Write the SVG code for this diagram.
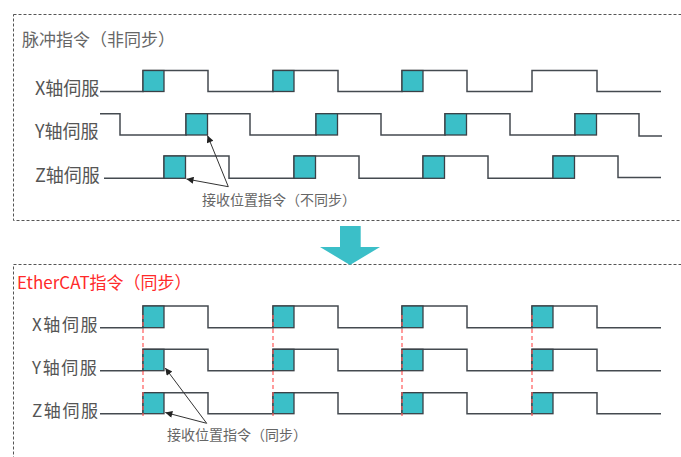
<svg xmlns="http://www.w3.org/2000/svg" width="681" height="457" viewBox="0 0 681 457">
<defs>
<style>
.frame{fill:none;stroke:#555;stroke-width:1;stroke-dasharray:3 2}
.wave{fill:none;stroke:#444a50;stroke-width:1.5}
.tl{fill:#3bbfc8;stroke:#3a4046;stroke-width:1.3}
.lbl{font-family:"Noto Sans CJK SC","Noto Sans",sans-serif;font-size:18px;fill:#555}
.lbl2{font-family:"Noto Sans CJK SC","Noto Sans",sans-serif;font-size:17px;fill:#555;letter-spacing:1.6px}
.ttl{font-family:"Noto Sans CJK SC","Noto Sans",sans-serif;font-size:17px;fill:#666}
.note{font-family:"Noto Sans CJK SC","Noto Sans",sans-serif;font-size:14px;fill:#666}
.sync{fill:none;stroke:#ff5a5a;stroke-width:1.2;stroke-dasharray:4 3}
.ptr{fill:none;stroke:#333;stroke-width:1;marker-end:url(#ah)}
</style>
<marker id="ah" viewBox="0 0 10 10" refX="10" refY="5" markerWidth="9" markerHeight="7" markerUnits="userSpaceOnUse" orient="auto">
<path d="M0,0 L10,5 L0,10 Z" fill="#222"/>
</marker>
</defs>
<rect width="681" height="457" fill="#fff"/>

<g id="frame-async">
<rect class="frame" x="13.5" y="14.5" width="690" height="206"/>
<text class="ttl" x="22" y="46">脉冲指令（非同步）</text>
</g>

<g id="frame-sync">
<rect class="frame" x="13.5" y="264.5" width="690" height="220"/>
<text class="ttl" x="17" y="289" fill="#ff2a2a" style="fill:#ff2a2a">EtherCAT指令（同步）</text>
</g>

<g id="down-arrow">
<polygon points="340,226 360.7,226 360.7,247 380,247 350,265 320,247 340,247" fill="#3bbfc8"/>
</g>

<g id="async-x">
<text class="lbl" x="35" y="94.5">X轴伺服</text>
<path class="wave" d="M100,91.5 H143 V70.5 H208 V91.5 H273 V70.5 H338 V91.5 H402 V70.5 H467 V91.5 H532 V70.5 H597 V91.5 H661"/>
<rect class="tl" x="143" y="70.5" width="21" height="21"/>
<rect class="tl" x="273" y="70.5" width="21" height="21"/>
<rect class="tl" x="402" y="70.5" width="21" height="21"/>
</g>

<g id="async-y">
<text class="lbl" x="35" y="138">Y轴伺服</text>
<path class="wave" d="M100,113.7 H120 V135 H186 V113.7 H250 V135 H316 V113.7 H381 V135 H445 V113.7 H510 V135 H575 V113.7 H639 V136 H662"/>
<rect class="tl" x="186" y="113.7" width="21.5" height="21.3"/>
<rect class="tl" x="316" y="113.7" width="21.5" height="21.3"/>
<rect class="tl" x="445" y="113.7" width="21.5" height="21.3"/>
<rect class="tl" x="575" y="113.7" width="21.5" height="21.3"/>
</g>

<g id="async-z">
<text class="lbl" x="35" y="181.5">Z轴伺服</text>
<path class="wave" d="M104,178.3 H164 V156 H229 V178.3 H294 V156 H359 V178.3 H423 V156 H488 V178.3 H553 V156 H618 V177.5 H661"/>
<rect class="tl" x="164" y="156" width="21.5" height="22.3"/>
<rect class="tl" x="294" y="156" width="21.5" height="22.3"/>
<rect class="tl" x="423" y="156" width="21.5" height="22.3"/>
<rect class="tl" x="553" y="156" width="21.5" height="22.3"/>
</g>

<g id="sync-x">
<text class="lbl2" x="32" y="330.5">X轴伺服</text>
<path class="wave" d="M100,327.7 H143 V306 H208 V327.7 H273 V306 H338 V327.7 H402 V306 H467 V327.7 H532 V306 H597 V327.7 H661"/>
<rect class="tl" x="143" y="306" width="21" height="21.7"/>
<rect class="tl" x="273" y="306" width="21" height="21.7"/>
<rect class="tl" x="402" y="306" width="21" height="21.7"/>
<rect class="tl" x="532" y="306" width="21" height="21.7"/>
</g>

<g id="sync-y">
<text class="lbl2" x="32" y="373.5">Y轴伺服</text>
<path class="wave" d="M100,370.7 H143 V349.3 H208 V370.7 H273 V349.3 H338 V370.7 H402 V349.3 H467 V370.7 H532 V349.3 H597 V370.7 H661"/>
<rect class="tl" x="143" y="349.3" width="21" height="21.4"/>
<rect class="tl" x="273" y="349.3" width="21" height="21.4"/>
<rect class="tl" x="402" y="349.3" width="21" height="21.4"/>
<rect class="tl" x="532" y="349.3" width="21" height="21.4"/>
</g>

<g id="sync-z">
<text class="lbl2" x="32" y="416.5">Z轴伺服</text>
<path class="wave" d="M100,413.7 H143 V392.7 H208 V413.7 H273 V392.7 H338 V413.7 H402 V392.7 H467 V413.7 H532 V392.7 H597 V413.7 H661"/>
<rect class="tl" x="143" y="392.7" width="21" height="21"/>
<rect class="tl" x="273" y="392.7" width="21" height="21"/>
<rect class="tl" x="402" y="392.7" width="21" height="21"/>
<rect class="tl" x="532" y="392.7" width="21" height="21"/>
</g>

<g id="connectors">
<line class="sync" x1="143" y1="315" x2="143" y2="416"/>
<line class="sync" x1="273" y1="315" x2="273" y2="416"/>
<line class="sync" x1="402" y1="315" x2="402" y2="416"/>
<line class="sync" x1="532" y1="315" x2="532" y2="416"/>
<line class="ptr" x1="228.3" y1="186.7" x2="207.5" y2="135.5"/>
<line class="ptr" x1="228.3" y1="186.7" x2="186.5" y2="179"/>
<line class="ptr" x1="206.7" y1="423.3" x2="165.3" y2="368"/>
<line class="ptr" x1="206.7" y1="423.3" x2="165.3" y2="412.5"/>
</g>

<g id="notes">
<text class="note" x="202" y="205">接收位置指令（不同步）</text>
<text class="note" x="167" y="440">接收位置指令（同步）</text>
</g>
</svg>
